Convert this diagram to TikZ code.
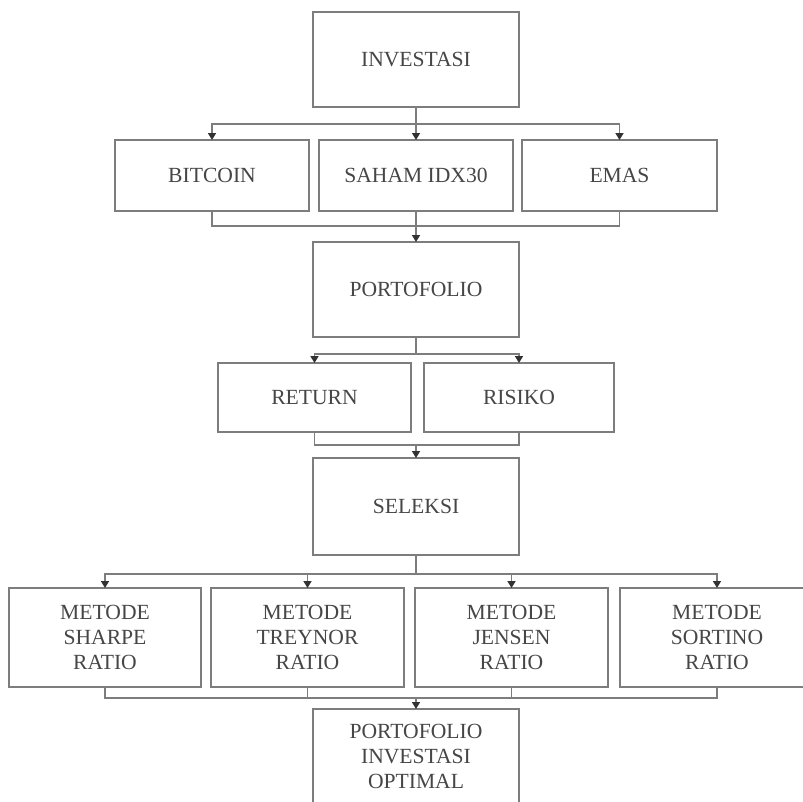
\documentclass[tikz,border=0pt]{standalone}
\usepackage{fontspec}
\setmainfont{Liberation Serif}
\usetikzlibrary{arrows.meta}
\definecolor{linecol}{RGB}{125,125,125}
\definecolor{txtcol}{RGB}{70,70,70}
\definecolor{tipcol}{RGB}{50,50,50}
\begin{document}
\begin{tikzpicture}[x=1pt,y=-1pt,
  box/.style={draw=linecol,line width=1.6pt,inner sep=0pt,outer sep=0pt,
    text=txtcol,align=center,font=\fontsize{21.6}{25}\selectfont},
  conn/.style={draw=linecol,line width=1.6pt},
  arr/.style={conn,-{Triangle[width=8pt,length=7pt,color=tipcol]}}]
\clip (0,0) rectangle (803,801);
\fill[white] (0,0) rectangle (803,801);
% nodes
\node[box,minimum width=206pt,minimum height=95pt] (inv) at (416,59.5) {INVESTASI};
\node[box,minimum width=194pt,minimum height=71pt] (btc) at (212,175.5) {BITCOIN};
\node[box,minimum width=194pt,minimum height=71pt] (saham) at (416,175.5) {SAHAM IDX30};
\node[box,minimum width=195pt,minimum height=71pt] (emas) at (619.5,175.5) {EMAS};
\node[box,minimum width=206pt,minimum height=95pt] (port) at (416,289.5) {PORTOFOLIO};
\node[box,minimum width=193pt,minimum height=69pt] (ret) at (314.5,397.5) {RETURN};
\node[box,minimum width=190pt,minimum height=69pt] (ris) at (519,397.5) {RISIKO};
\node[box,minimum width=206pt,minimum height=97pt] (sel) at (416,506.5) {SELEKSI};
\node[box,minimum width=192pt,minimum height=99pt] (m1) at (105,637.5) {METODE\\SHARPE\\RATIO};
\node[box,minimum width=193pt,minimum height=99pt] (m2) at (307.5,637.5) {METODE\\TREYNOR\\RATIO};
\node[box,minimum width=193pt,minimum height=99pt] (m3) at (511.5,637.5) {METODE\\JENSEN\\RATIO};
\node[box,minimum width=194pt,minimum height=99pt] (m4) at (717,637.5) {METODE\\SORTINO\\RATIO};
\node[box,minimum width=206pt,minimum height=94pt] (fin) at (416,756) {PORTOFOLIO\\INVESTASI\\OPTIMAL};
% junctions
\coordinate (j1) at (416,124);
\coordinate (j2) at (416,226);
\coordinate (j3) at (416,354);
\coordinate (j4) at (416,445);
\coordinate (j5) at (416,574);
\coordinate (j6) at (416,698);
% investasi -> assets
\draw[conn] (inv.south) -- (j1);
\draw[arr] (j1) -| (btc.north);
\draw[arr] (j1) -- (saham.north);
\draw[arr] (j1) -| (emas.north);
% assets -> portofolio
\draw[conn] (btc.south) |- (j2);
\draw[conn] (emas.south) |- (j2);
\draw[conn] (saham.south) -- (j2);
\draw[arr] (j2) -- (port.north);
% portofolio -> return / risiko
\draw[conn] (port.south) -- (j3);
\draw[arr] (j3) -| (ret.north);
\draw[arr] (j3) -| (ris.north);
% return / risiko -> seleksi
\draw[conn] (ret.south) |- (j4);
\draw[conn] (ris.south) |- (j4);
\draw[arr] (j4) -- (sel.north);
% seleksi -> metode
\draw[conn] (sel.south) -- (j5);
\draw[arr] (j5) -| (m1.north);
\draw[arr] (j5) -| (m2.north);
\draw[arr] (j5) -| (m3.north);
\draw[arr] (j5) -| (m4.north);
% metode -> final
\draw[conn] (m1.south) |- (j6);
\draw[conn] (m2.south) |- (j6);
\draw[conn] (m3.south) |- (j6);
\draw[conn] (m4.south) |- (j6);
\draw[arr] (j6) -- (fin.north);
\end{tikzpicture}
\end{document}
